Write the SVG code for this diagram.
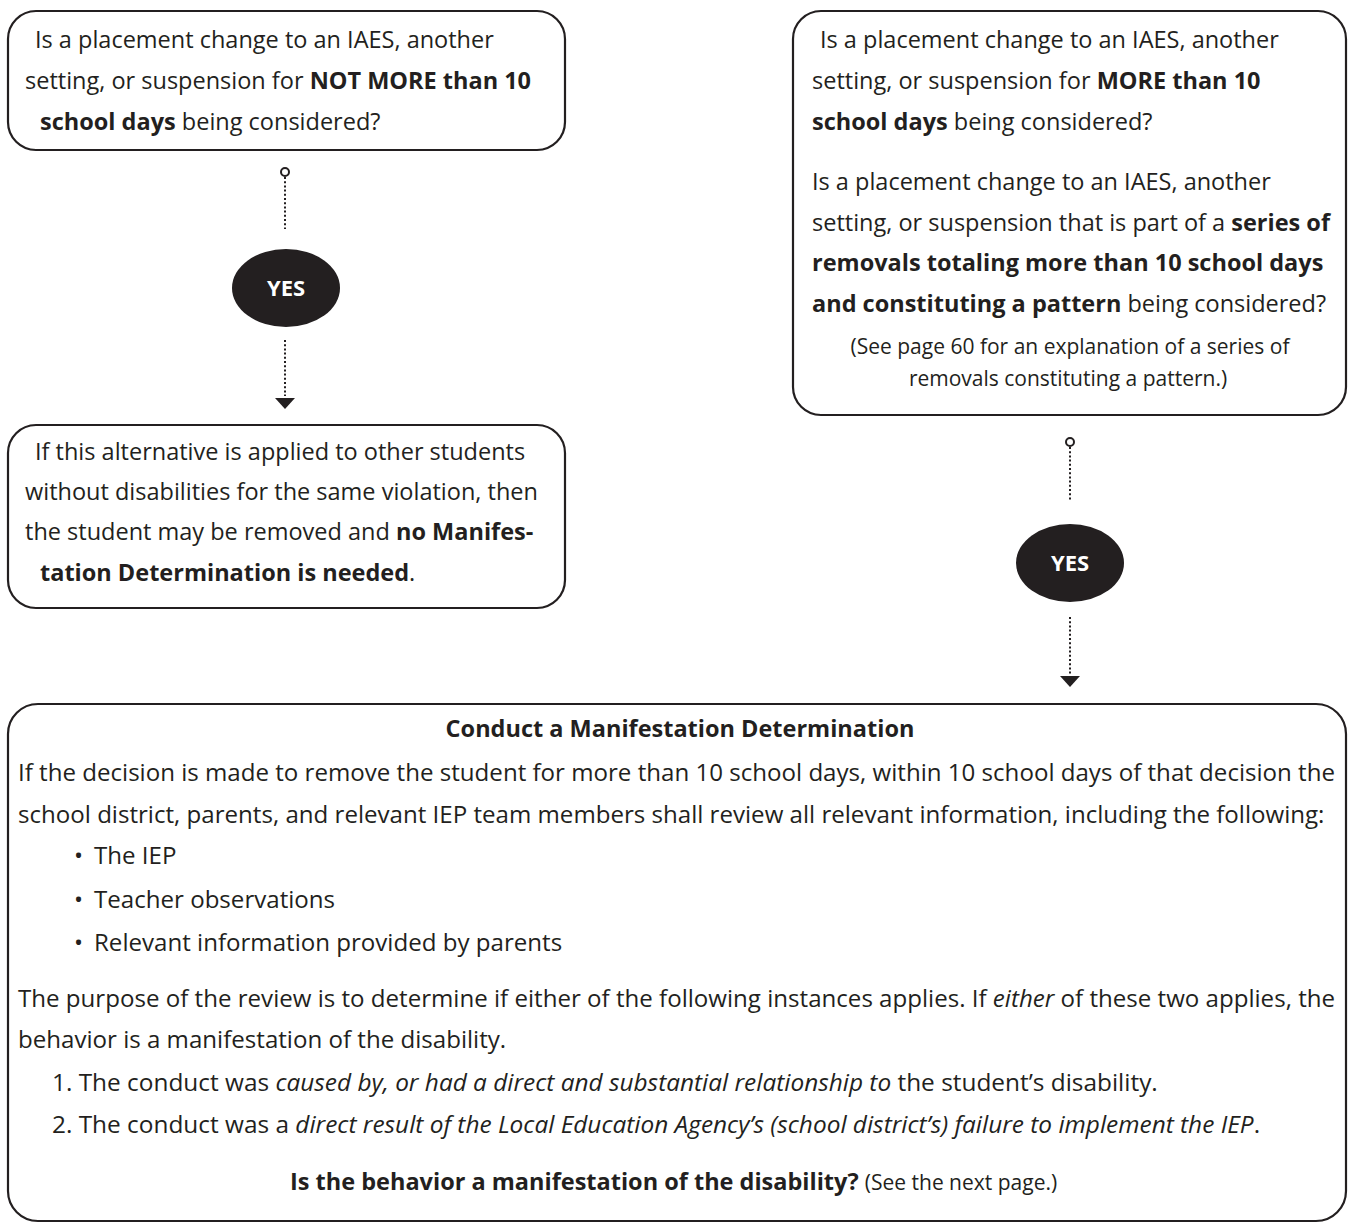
<svg xmlns="http://www.w3.org/2000/svg" width="1348" height="1226" viewBox="0 0 1348 1226">
<style>
.box{fill:#fff;stroke:#231f20;stroke-width:2.2}
.t{font-family:"Open Sans","Liberation Sans",sans-serif;font-size:23.5px;fill:#231f20}
.m{font-size:24.1px}
.n{font-size:24.4px}
.s{font-size:21px}
.b{font-weight:bold}
.i{font-style:italic}
.dot{stroke:#231f20;stroke-width:2;stroke-dasharray:2 2.2;fill:none}
.ring{fill:#fff;stroke:#231f20;stroke-width:2}
.yes{fill:#231f20}
.yt{font-family:"Open Sans","Liberation Sans",sans-serif;font-size:22px;font-weight:bold;fill:#fff;text-anchor:middle}
</style>

<g id="connectors">
<circle class="ring" cx="285" cy="172" r="4"/>
<line class="dot" x1="285" y1="177" x2="285" y2="229"/>
<line class="dot" x1="285" y1="340" x2="285" y2="396"/>
<path d="M275,398 L295,398 L285,409 Z" fill="#231f20"/>
<circle class="ring" cx="1070" cy="442" r="4"/>
<line class="dot" x1="1070" y1="447" x2="1070" y2="500"/>
<line class="dot" x1="1070" y1="617" x2="1070" y2="674"/>
<path d="M1060,676 L1080,676 L1070,687 Z" fill="#231f20"/>
</g>

<g id="yes1">
<ellipse class="yes" cx="286" cy="288" rx="54" ry="39"/>
<text class="yt" x="286" y="296">YES</text>
</g>
<g id="yes2">
<ellipse class="yes" cx="1070" cy="563" rx="54" ry="39"/>
<text class="yt" x="1070" y="571">YES</text>
</g>

<g id="q1">
<rect class="box" x="8" y="11" width="557" height="139" rx="28"/>
<text class="t" x="35" y="48">Is a placement change to an IAES, another</text>
<text class="t" x="25" y="89">setting, or suspension for <tspan class="b">NOT MORE than 10</tspan></text>
<text class="t" x="40" y="130"><tspan class="b">school days</tspan> being considered?</text>
</g>

<g id="a1">
<rect class="box" x="8" y="425" width="557" height="183" rx="28"/>
<text class="t" x="35" y="460">If this alternative is applied to other students</text>
<text class="t" x="25" y="500">without disabilities for the same violation, then</text>
<text class="t" x="25" y="540">the student may be removed and <tspan class="b">no Manifes-</tspan></text>
<text class="t" x="40" y="581"><tspan class="b">tation Determination is needed</tspan>.</text>
</g>

<g id="q2">
<rect class="box" x="793" y="11" width="553" height="404" rx="28"/>
<text class="t" x="820" y="48">Is a placement change to an IAES, another</text>
<text class="t" x="812" y="89">setting, or suspension for <tspan class="b">MORE than 10</tspan></text>
<text class="t" x="812" y="130"><tspan class="b">school days</tspan> being considered?</text>
<text class="t" x="812" y="190">Is a placement change to an IAES, another</text>
<text class="t" x="812" y="231">setting, or suspension that is part of a <tspan class="b">series of</tspan></text>
<text class="t" x="812" y="271"><tspan class="b">removals totaling more than 10 school days</tspan></text>
<text class="t" x="812" y="312"><tspan class="b">and constituting a pattern</tspan> being considered?</text>
<text class="t s" x="1070" y="354" text-anchor="middle">(See page 60 for an explanation of a series of</text>
<text class="t s" x="1068" y="386" text-anchor="middle">removals constituting a pattern.)</text>
</g>

<g id="md">
<rect class="box" x="8" y="704" width="1338" height="517" rx="30"/>
<text class="t b" x="680" y="737" text-anchor="middle">Conduct a Manifestation Determination</text>
<text class="t m" x="18" y="781">If the decision is made to remove the student for more than 10 school days, within 10 school days of that decision the</text>
<text class="t m" x="18" y="823">school district, parents, and relevant IEP team members shall review all relevant information, including the following:</text>
<text class="t m" x="74" y="864">•</text><text class="t m" x="94" y="864">The IEP</text>
<text class="t m" x="74" y="908">•</text><text class="t m" x="94" y="908">Teacher observations</text>
<text class="t m" x="74" y="951">•</text><text class="t m" x="94" y="951">Relevant information provided by parents</text>
<text class="t m" x="18" y="1007">The purpose of the review is to determine if either of the following  instances applies. If <tspan class="i">either</tspan> of these two applies, the</text>
<text class="t m" x="18" y="1048">behavior is a manifestation of the disability.</text>
<text class="t n" x="52" y="1091">1.  The conduct was <tspan class="i">caused by, or had a direct and substantial relationship to</tspan> the student’s disability.</text>
<text class="t n" x="52" y="1133">2.  The conduct was a <tspan class="i">direct result of the Local Education Agency’s (school district’s) failure to implement the IEP</tspan>.</text>
<text class="t" x="290" y="1190"><tspan class="b">Is the behavior a manifestation of the disability?</tspan> <tspan class="s">(See the next page.)</tspan></text>
</g>
</svg>
